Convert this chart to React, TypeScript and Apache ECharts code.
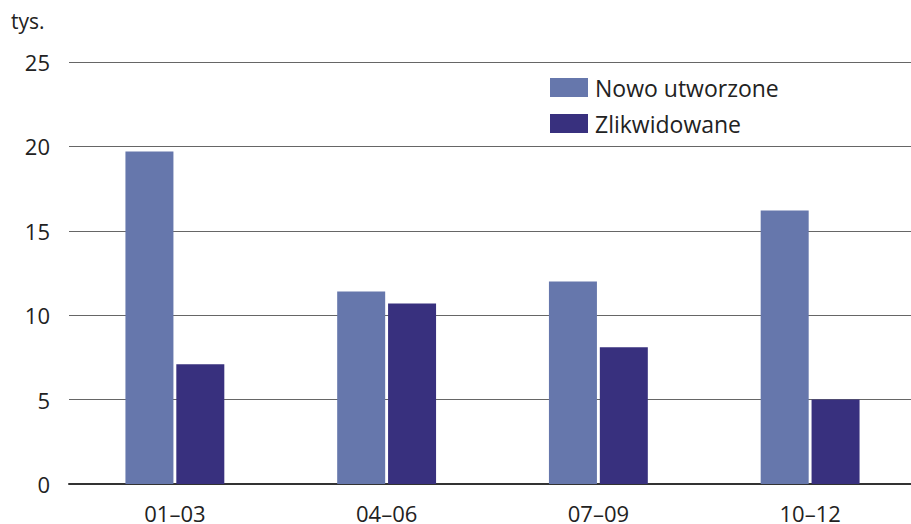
import React, { useEffect, useRef } from "react";
import * as echarts from "echarts";

const categories = ["01–03", "04–06", "07–09", "10–12"];
const nowoUtworzone = [19.7, 11.4, 12.0, 16.2];
const zlikwidowane = [7.1, 10.7, 8.1, 5.0];
const seriesNames = ["Nowo utworzone", "Zlikwidowane"];
const unitLabel = "tys.";

const FONT = "'Open Sans', 'Noto Sans', sans-serif";

export default function App() {
  const ref = useRef<HTMLDivElement>(null);
  useEffect(() => {
    if (!ref.current) return;
    const chart = echarts.init(ref.current, null, { renderer: "svg" });
    chart.setOption({
      animation: false,
      textStyle: { fontFamily: FONT, color: "#222" },
      graphic: [
        {
          type: "text",
          left: 11,
          top: 10,
          style: { text: unitLabel, fontSize: 21, fontFamily: FONT, fill: "#222" },
        },
      ],
      legend: {
        data: seriesNames,
        orient: "vertical",
        left: 545,
        top: 71,
        itemWidth: 38,
        itemHeight: 19,
        itemGap: 13,
        icon: "rect",
        textStyle: { fontSize: 23, color: "#222", fontFamily: FONT, padding: [0, 0, 0, 2] },
      },
      grid: { left: 69, top: 62, width: 847, height: 424, containLabel: false },
      xAxis: {
        type: "category",
        data: categories,
        axisLine: { show: true, lineStyle: { color: "#333", width: 2 } },
        axisTick: { show: false },
        axisLabel: { fontSize: 22, color: "#222", margin: 18, fontFamily: FONT },
      },
      yAxis: {
        type: "value",
        min: 0,
        max: 25,
        interval: 5,
        axisLine: { show: false },
        axisTick: { show: false },
        axisLabel: { fontSize: 22, color: "#222", margin: 19, fontFamily: FONT },
        splitLine: { lineStyle: { color: "#666", width: 1 } },
      },
      series: [
        {
          name: seriesNames[0],
          type: "bar",
          data: nowoUtworzone,
          barWidth: 48,
          barGap: "6%",
          itemStyle: { color: "#6677AC" },
        },
        {
          name: seriesNames[1],
          type: "bar",
          data: zlikwidowane,
          barWidth: 48,
          itemStyle: { color: "#38307E" },
        },
      ],
    });
    return () => chart.dispose();
  }, []);
  return (
    <div
      style={{ position: "fixed", left: 0, top: 0, width: 911, height: 524, overflow: "hidden", background: "#fff" }}
    >
      <div ref={ref} style={{ width: 920, height: 524 }} />
    </div>
  );
}
